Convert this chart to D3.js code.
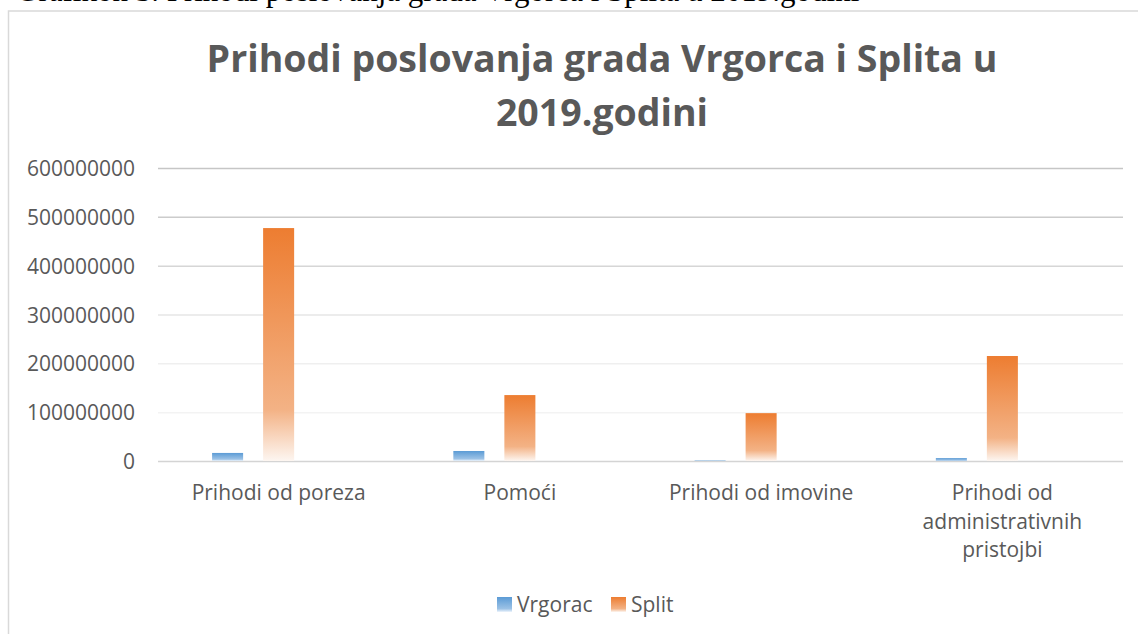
<!DOCTYPE html>
<html>
<head>
<meta charset="utf-8">
<script src="https://cdn.jsdelivr.net/npm/d3@7"></script>
<style>
  body { margin: 0; background: #fff; }
  text { font-family: "Open Sans", sans-serif; }
</style>
</head>
<body>
<div id="chart"></div>
<script>
var svgWidth = 1138;
var svgHeight = 634;

// data
var categories = ["Prihodi od poreza", "Pomoći", "Prihodi od imovine", "Prihodi od administrativnih pristojbi"];
var vrgorac = [16500000, 20500000, 800000, 6000000];
var split = [477000000, 135000000, 98000000, 215000000];
var seriesNames = ["Vrgorac", "Split"];
// the original chart keeps a third, empty slot in every group
var slots = ["Vrgorac", "Split", "empty"];
var yTicks = [0, 100000000, 200000000, 300000000, 400000000, 500000000, 600000000];

var plot = { left: 158, right: 1123, top: 168, bottom: 461 };

var svg = d3.select("#chart")
  .append("svg")
  .attr("width", svgWidth)
  .attr("height", svgHeight)
  .style("display", "block");

var defs = svg.append("defs");

function addGradient(id, top, mid, bottom) {
  var g = defs.append("linearGradient")
    .attr("id", id)
    .attr("x1", 0).attr("y1", 0)
    .attr("x2", 0).attr("y2", 1);
  g.append("stop").attr("offset", "0%").attr("stop-color", top);
  g.append("stop").attr("offset", "78%").attr("stop-color", mid);
  g.append("stop").attr("offset", "100%").attr("stop-color", bottom);
}
addGradient("gradBlue", "#5B9BD5", "#9CC2E6", "#EEF5FC");
addGradient("gradOrange", "#ED7D31", "#F3B285", "#FDF6F1");

// document caption cut off at the top of the picture
svg.append("text")
  .attr("x", 16)
  .attr("y", 0.5)
  .style("font-family", "'Liberation Serif', 'Times New Roman', serif")
  .style("font-size", "31px")
  .attr("fill", "#000")
  .text("Grafikon 3. Prihodi poslovanja grada Vrgorca i Splita u 2019.godini");

// chart frame
svg.append("rect")
  .attr("x", 8.5)
  .attr("y", 11)
  .attr("width", 1200)
  .attr("height", 700)
  .attr("fill", "#fff")
  .attr("stroke", "#d9d9d9")
  .attr("stroke-width", 1.5);

// title
var title = svg.append("text")
  .attr("text-anchor", "middle")
  .attr("fill", "#595959")
  .style("font-size", "37.5px")
  .style("font-weight", "bold");
title.append("tspan").attr("x", 602).attr("y", 72).text("Prihodi poslovanja grada Vrgorca i Splita u");
title.append("tspan").attr("x", 602).attr("y", 126).text("2019.godini");

var x0 = d3.scaleBand()
  .domain(categories)
  .range([plot.left, plot.right])
  .padding(0);

var x1 = d3.scaleBand()
  .domain(slots)
  .range([0, x0.bandwidth()])
  .paddingInner(0.392)
  .paddingOuter(1.06);

var y = d3.scaleLinear()
  .domain([0, 600000000])
  .range([plot.bottom, plot.top]);

// gridlines, darker at the top and lighter towards the bottom
var gridColors = ["#d4d4d4", "#f3f3f3", "#efefef", "#e6e6e6", "#d6d6d6", "#cccccc", "#c6c6c6"];
var grid = svg.append("g")
  .attr("transform", `translate(${plot.left}, 0)`)
  .call(d3.axisLeft(y).tickValues(yTicks).tickSize(-(plot.right - plot.left)).tickFormat(""));
grid.select(".domain").remove();
grid.selectAll(".tick line")
  .attr("stroke", (d, i) => gridColors[i])
  .attr("stroke-width", 1.5);

// y axis labels
var yAxis = svg.append("g")
  .attr("transform", `translate(${plot.left}, 0)`)
  .call(d3.axisLeft(y).tickValues(yTicks).tickSize(0).tickPadding(23).tickFormat(d3.format("d")));
yAxis.select(".domain").remove();
yAxis.selectAll("text")
  .attr("fill", "#595959")
  .style("font-size", "21px")
  .attr("dy", "0.36em");

// bars
var rows = categories.map((c, i) => ({ cat: c, values: [vrgorac[i], split[i]] }));
var fills = ["url(#gradBlue)", "url(#gradOrange)"];

var groups = svg.selectAll(".group")
  .data(rows)
  .enter()
  .append("g")
  .attr("class", "group")
  .attr("transform", d => `translate(${x0(d.cat)}, 0)`);

groups.selectAll("rect")
  .data(d => d.values.map((v, j) => ({ name: seriesNames[j], value: v, j: j })))
  .enter()
  .append("rect")
  .attr("x", d => x1(d.name))
  .attr("y", d => y(d.value))
  .attr("width", x1.bandwidth())
  .attr("height", d => y(0) - y(d.value))
  .attr("fill", d => fills[d.j]);

// x axis labels
var xAxis = svg.append("g")
  .attr("transform", `translate(0, ${plot.bottom})`)
  .call(d3.axisBottom(x0).tickSize(0));
xAxis.select(".domain").remove();

function wrap(text, width) {
  text.each(function () {
    var t = d3.select(this);
    var words = t.text().split(/\s+/);
    var lines = [];
    var line = [];
    t.text(null);
    var probe = t.append("tspan");
    words.forEach(function (w) {
      line.push(w);
      probe.text(line.join(" "));
      if (probe.node().getComputedTextLength() > width && line.length > 1) {
        line.pop();
        lines.push(line.join(" "));
        line = [w];
      }
    });
    lines.push(line.join(" "));
    probe.remove();
    lines.forEach(function (l, i) {
      t.append("tspan").attr("x", 0).attr("y", 39 + i * 28.5).text(l);
    });
  });
}

xAxis.selectAll("text")
  .attr("fill", "#595959")
  .style("font-size", "21px")
  .attr("dy", 0)
  .call(wrap, x0.bandwidth() - 12);

// legend
var legend = svg.append("g").attr("transform", "translate(497, 597)");
var legendX = [0, 114];
seriesNames.forEach(function (name, i) {
  var item = legend.append("g").attr("transform", `translate(${legendX[i]}, 0)`);
  item.append("rect")
    .attr("width", 15)
    .attr("height", 15)
    .attr("fill", fills[i]);
  item.append("text")
    .attr("x", 20)
    .attr("y", 15)
    .attr("fill", "#595959")
    .style("font-size", "21px")
    .text(name);
});
</script>
</body>
</html>
